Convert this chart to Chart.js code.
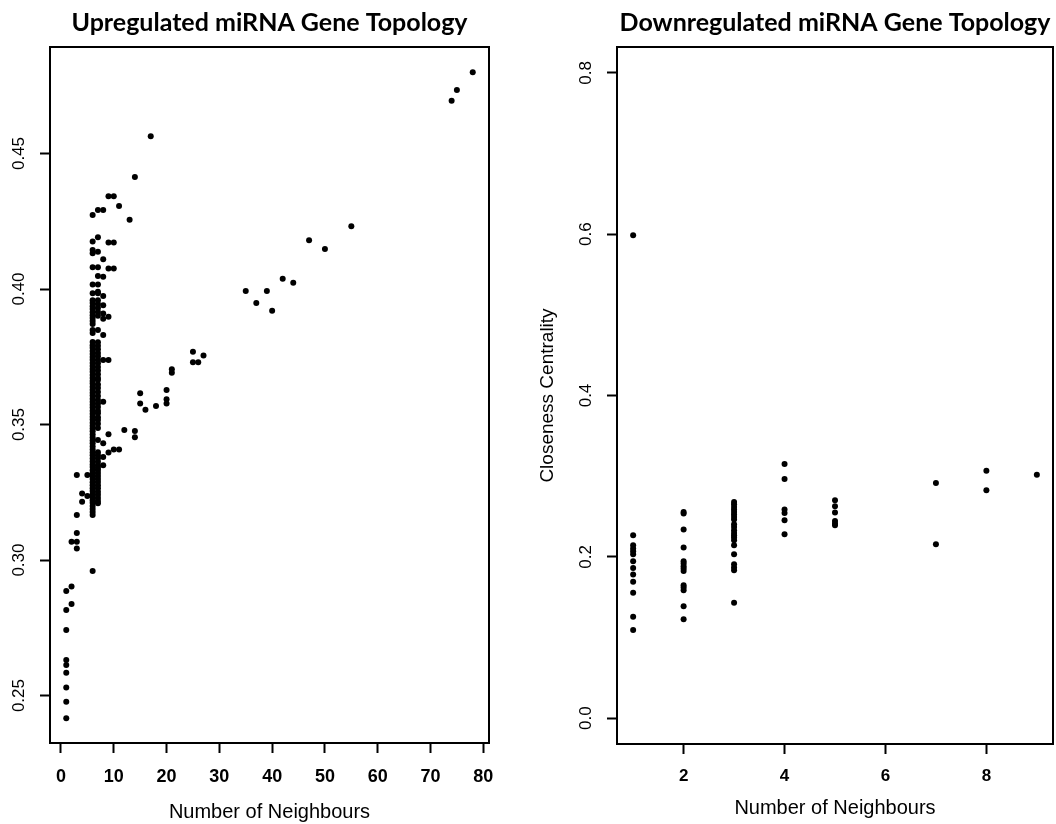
<!DOCTYPE html>
<html>
<head>
<meta charset="utf-8">
<script src="https://cdn.jsdelivr.net/npm/chart.js@4.4.1/dist/chart.umd.min.js"></script>
<style>
  body { margin: 0; background: #fff; }
  #wrap { position: relative; width: 1056px; height: 824px; overflow: hidden; background: #fff; }
  canvas { position: absolute; top: 0; }
</style>
</head>
<body>
<div id="wrap">
  <canvas id="up" width="528" height="824" style="left:0"></canvas>
  <canvas id="down" width="528" height="824" style="left:528px"></canvas>
</div>
<script>
// upregulated: neighbour counts, and the closeness values seen at each count
const upCounts = [1, 2, 3, 4, 5, 6, 7, 8, 9, 10, 11, 12, 13, 14, 15, 16, 17, 18, 20, 21, 25, 26, 27, 35, 37, 39, 40, 42, 44, 47, 50, 55, 74, 75, 78];
const upValues = [
  [0.2886, 0.2816, 0.2742, 0.2631, 0.2613, 0.2584, 0.253, 0.2477, 0.2416],
  [0.3068, 0.2902, 0.2838],
  [0.3314, 0.3166, 0.31, 0.3068, 0.3043],
  [0.3246, 0.3215],
  [0.3314, 0.3236],
  // 6 neighbours: a nearly solid column
  [0.4273, 0.4175, 0.4144, 0.4132, 0.408, 0.4017, 0.3984, 0.3959, 0.3948, 0.3936, 0.3926, 0.3914, 0.3903, 0.3893,
   0.3882, 0.3871, 0.3849, 0.3838, 0.3805, 0.3793, 0.3783, 0.3771, 0.376, 0.3749, 0.3739, 0.3727, 0.3716, 0.3705,
   0.3695, 0.3683, 0.3672, 0.3661, 0.3651, 0.3639, 0.3628, 0.3617, 0.3607, 0.3595, 0.3584, 0.3573, 0.3563, 0.3551,
   0.354, 0.3529, 0.3519, 0.3507, 0.3496, 0.3485, 0.3475, 0.3463, 0.3452, 0.3441, 0.3431, 0.3419, 0.3408, 0.3397,
   0.3387, 0.3375, 0.3364, 0.3353, 0.3343, 0.3331, 0.332, 0.3309, 0.3299, 0.3287, 0.3276, 0.3265, 0.3255, 0.3243,
   0.3232, 0.3221, 0.3211, 0.3199, 0.3188, 0.3177, 0.3166, 0.296],
  // 7 neighbours
  [0.4292, 0.4191, 0.4138, 0.408, 0.4048, 0.4017, 0.399, 0.3984, 0.3959, 0.3945, 0.393, 0.3915, 0.3901, 0.3849,
   0.3804, 0.3791, 0.3778, 0.3764, 0.3752, 0.3738, 0.3726, 0.3712, 0.3699, 0.3686, 0.3672, 0.3664, 0.3648, 0.3635,
   0.362, 0.3605, 0.3591, 0.3578, 0.3565, 0.3551, 0.3542, 0.3527, 0.3517, 0.3503, 0.3487, 0.3443, 0.3398, 0.3387,
   0.3376, 0.3363, 0.335, 0.3341, 0.3332, 0.3321, 0.331, 0.3299, 0.3288, 0.3276, 0.3265, 0.3252, 0.3241, 0.3229,
   0.3218, 0.321],
  [0.4292, 0.411, 0.4045, 0.3974, 0.394, 0.391, 0.389, 0.383, 0.3738, 0.3584, 0.3431, 0.338, 0.335],
  [0.4342, 0.4172, 0.4076, 0.3898, 0.3738, 0.3464, 0.3397],
  [0.4342, 0.4172, 0.4076, 0.3408],
  [0.4306, 0.3408],
  [0.348],
  [0.4256],
  [0.4413, 0.3476, 0.3453],
  [0.3615, 0.3578],
  [0.3555],
  [0.4564],
  [0.3568],
  [0.3627, 0.3593, 0.3578],
  [0.3704, 0.3691],
  [0.3769, 0.373],
  [0.373],
  [0.3755],
  [0.3993], [0.3948], [0.3993], [0.392], [0.4038], [0.4023], [0.418], [0.4148], [0.4232],
  [0.4695], [0.4734], [0.48]
];
const upXTicks = [0, 10, 20, 30, 40, 50, 60, 70, 80];
const upYTicks = [0.25, 0.30, 0.35, 0.40, 0.45];

// downregulated
const downCounts = [1, 2, 3, 4, 5, 7, 8, 9];
const downValues = [
  [0.5988, 0.2268, 0.2144, 0.2103, 0.207, 0.2033, 0.1946, 0.1863, 0.1782, 0.169, 0.1554, 0.1257, 0.1092],
  [0.2556, 0.2536, 0.2338, 0.2116, 0.1946, 0.1918, 0.1884, 0.1856, 0.1826, 0.1649, 0.1621, 0.1587, 0.1389, 0.1225],
  [0.268, 0.2651, 0.2618, 0.2586, 0.2556, 0.2524, 0.2494, 0.2462, 0.2404, 0.237, 0.233, 0.2296, 0.2268, 0.2239,
   0.2206, 0.2144, 0.2033, 0.1909, 0.1868, 0.1835, 0.143],
  [0.315, 0.2964, 0.2586, 0.2544, 0.2453, 0.228],
  [0.2701, 0.2627, 0.2549, 0.2445, 0.2412, 0.2391],
  [0.2915, 0.2156],
  [0.3068, 0.2824],
  [0.3019]
];
const downXTicks = [2, 4, 6, 8];
const downYTicks = [0.0, 0.2, 0.4, 0.6, 0.8];

const toPoints = (counts, values) =>
  counts.flatMap((c, i) => values[i].map(v => ({ x: c, y: v })));

// R style frame round the plot region
const boxPlugin = {
  id: 'box',
  afterDatasetsDraw(chart) {
    const { ctx, chartArea: a } = chart;
    ctx.save();
    ctx.strokeStyle = '#000';
    ctx.lineWidth = 2;
    ctx.strokeRect(a.left, a.top, a.right - a.left, a.bottom - a.top);
    ctx.restore();
  }
};

const sans = "'Liberation Sans', Arial, sans-serif";

function makeChart(id, cfg) {
  return new Chart(document.getElementById(id), {
    type: 'scatter',
    data: {
      datasets: [{
        data: cfg.points,
        backgroundColor: '#000',
        borderWidth: 0,
        pointRadius: 3,
        pointHoverRadius: 3
      }]
    },
    options: {
      responsive: false,
      animation: false,
      devicePixelRatio: 1,
      layout: { padding: { left: 0, right: cfg.padRight, top: 0, bottom: 0 } },
      plugins: {
        legend: { display: false },
        tooltip: { enabled: false },
        title: {
          display: true,
          text: cfg.title,
          fullSize: false,
          color: '#000',
          font: { family: "Lato, 'Open Sans', sans-serif", size: 25, weight: 'bold' },
          padding: { top: 8, bottom: 9 }
        }
      },
      scales: {
        x: {
          type: 'linear',
          min: cfg.xMin,
          max: cfg.xMax,
          afterBuildTicks: s => { s.ticks = cfg.xTicks.map(v => ({ value: v })); },
          afterFit: s => { s.height = cfg.xHeight; },
          border: { display: false },
          grid: { drawOnChartArea: false, drawTicks: true, tickLength: 10, tickWidth: 2, tickColor: '#000' },
          ticks: {
            color: '#000',
            padding: cfg.xTickPad,
            font: { family: sans, size: cfg.xTickSize, weight: 'bold' },
            callback: v => String(v)
          },
          title: {
            display: true,
            text: 'Number of Neighbours',
            color: '#000',
            font: { family: sans, size: 20 },
            padding: { top: 0, bottom: cfg.xTitlePad }
          }
        },
        y: {
          type: 'linear',
          min: cfg.yMin,
          max: cfg.yMax,
          afterBuildTicks: s => { s.ticks = cfg.yTicks.map(v => ({ value: v })); },
          afterFit: s => { s.width = cfg.yWidth; },
          border: { display: false },
          grid: { drawOnChartArea: false, drawTicks: true, tickLength: 10, tickWidth: 2, tickColor: '#000' },
          ticks: {
            color: '#000',
            minRotation: 90,
            maxRotation: 90,
            crossAlign: 'center',
            padding: cfg.yTickPad,
            font: { family: sans, size: 17 },
            callback: v => v.toFixed(cfg.yDigits)
          },
          title: {
            display: !!cfg.yTitle,
            text: cfg.yTitle || '',
            color: '#000',
            font: { family: sans, size: 19 },
            padding: { top: 8, bottom: 0 }
          }
        }
      }
    },
    plugins: [boxPlugin]
  });
}

makeChart('up', {
  title: 'Upregulated miRNA Gene Topology',
  points: toPoints(upCounts, upValues),
  xMin: -2.08, xMax: 81.08, yMin: 0.2325, yMax: 0.4893,
  xTicks: upXTicks, yTicks: upYTicks, yDigits: 2,
  padRight: 39, xHeight: 81, yWidth: 50,
  xTickPad: 13, xTickSize: 18, xTitlePad: 0,
  yTickPad: 4
});

makeChart('down', {
  title: 'Downregulated miRNA Gene Topology',
  points: toPoints(downCounts, downValues),
  xMin: 0.68, xMax: 9.32, yMin: -0.032, yMax: 0.832,
  xTicks: downXTicks, yTicks: downYTicks, yDigits: 1,
  yTitle: 'Closeness Centrality',
  padRight: 1, xHeight: 80, yWidth: 89,
  xTickPad: 12, xTickSize: 17, xTitlePad: 4,
  yTickPad: 9
});
</script>
</body>
</html>
